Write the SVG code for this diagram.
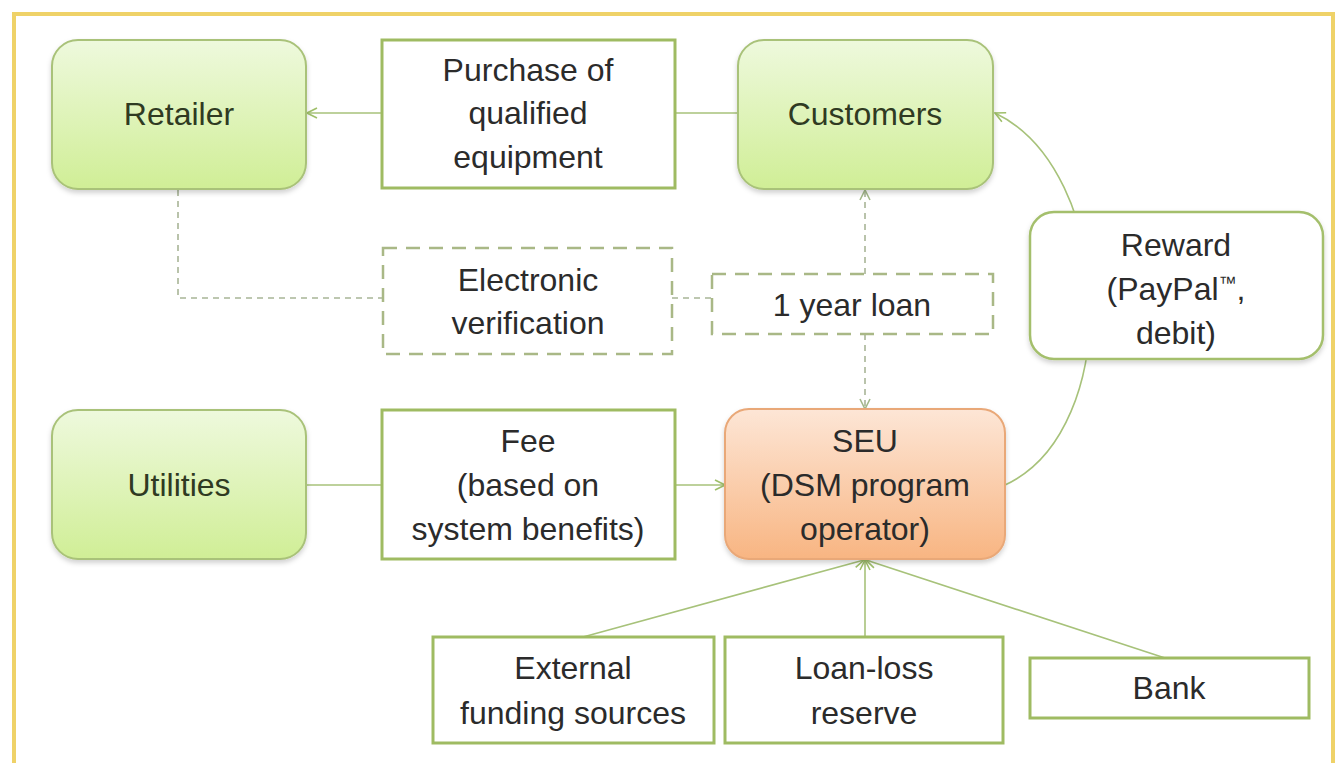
<svg xmlns="http://www.w3.org/2000/svg" width="1336" height="763" viewBox="0 0 1336 763">
<defs>
<linearGradient id="gGreen" x1="0" y1="0" x2="0" y2="1">
<stop offset="0" stop-color="#eef9dd"/>
<stop offset="1" stop-color="#d0ee96"/>
</linearGradient>
<linearGradient id="gOrange" x1="0" y1="0" x2="0" y2="1">
<stop offset="0" stop-color="#fde6d6"/>
<stop offset="1" stop-color="#f8b582"/>
</linearGradient>
<filter id="sh" x="-10%" y="-10%" width="120%" height="125%">
<feDropShadow dx="0" dy="3" stdDeviation="2.5" flood-color="#000" flood-opacity="0.18"/>
</filter>
<marker id="arr" viewBox="0 0 12 12" refX="11" refY="6" markerWidth="12" markerHeight="12" markerUnits="userSpaceOnUse" orient="auto">
<path d="M1,1 L11,6 L1,11" fill="none" stroke="#9fbf6a" stroke-width="1.6"/>
</marker>
<marker id="arrD" viewBox="0 0 12 12" refX="11" refY="6" markerWidth="12" markerHeight="12" markerUnits="userSpaceOnUse" orient="auto">
<path d="M1,1 L11,6 L1,11" fill="none" stroke="#a3b98a" stroke-width="1.6"/>
</marker>
</defs>
<style>
text{font-family:"Liberation Sans",Arial,sans-serif;font-size:32px;fill:#2b2b2b;text-anchor:middle}
.node{fill:url(#gGreen);stroke:#a9c279;stroke-width:2;filter:url(#sh)}
.seu{fill:url(#gOrange);stroke:#e9a878;stroke-width:2;filter:url(#sh)}
.box{fill:#fff;stroke:#9fbb62;stroke-width:3}
.rbox{fill:#fff;stroke:#a4bf6c;stroke-width:2.5;filter:url(#sh)}
.dbox{fill:#fff;stroke:#a9b886;stroke-width:2.5;stroke-dasharray:14 9}
.ln{fill:none;stroke:#a7c27a;stroke-width:1.6}
.dl{fill:none;stroke:#a8b597;stroke-width:1.6;stroke-dasharray:6 5}
.nt{fill:#2f3a22}
.tm{font-size:18px}
</style>
<rect width="1336" height="763" fill="#fff"/>
<path d="M14,763 L14,14 L1333,14 L1333,763" fill="none" stroke="#efd268" stroke-width="4"/>

<g id="connectors">
<line class="ln" x1="382" y1="113" x2="307" y2="113" marker-end="url(#arr)"/>
<line class="ln" x1="675" y1="113" x2="738" y2="113"/>
<path class="dl" d="M178,190 L178,298 L383,298"/>
<line class="dl" x1="672" y1="298" x2="712" y2="298"/>
<line class="dl" x1="865" y1="274" x2="865" y2="190" marker-end="url(#arrD)"/>
<line class="dl" x1="865" y1="334" x2="865" y2="409" marker-end="url(#arrD)"/>
<path class="ln" d="M1005,485 C1125,430 1115,170 995,113" marker-end="url(#arr)"/>
<line class="ln" x1="306" y1="485" x2="382" y2="485"/>
<line class="ln" x1="675" y1="485" x2="725" y2="485" marker-end="url(#arr)"/>
<line class="ln" x1="583" y1="637" x2="864" y2="560" marker-end="url(#arr)"/>
<line class="ln" x1="865" y1="637" x2="865" y2="560" marker-end="url(#arr)"/>
<line class="ln" x1="1165" y1="658" x2="866" y2="560" marker-end="url(#arr)"/>
</g>

<g id="retailer">
<rect class="node" x="52" y="40" width="254" height="149" rx="26"/>
<text class="nt" x="179" y="125">Retailer</text>
</g>
<g id="purchase">
<rect class="box" x="382" y="40" width="293" height="148"/>
<text x="528" y="81">Purchase of</text>
<text x="528" y="124">qualified</text>
<text x="528" y="168">equipment</text>
</g>
<g id="customers">
<rect class="node" x="738" y="40" width="255" height="149" rx="26"/>
<text class="nt" x="865" y="125">Customers</text>
</g>
<g id="verification">
<rect class="dbox" x="383" y="248" width="289" height="106"/>
<text x="528" y="291">Electronic</text>
<text x="528" y="334">verification</text>
</g>
<g id="loan">
<rect class="dbox" x="712" y="274" width="281" height="60"/>
<text x="852" y="316">1 year loan</text>
</g>
<g id="reward">
<rect class="rbox" x="1030" y="212" width="293" height="147" rx="24"/>
<text x="1176" y="256">Reward</text>
<text x="1176" y="300">(PayPal<tspan class="tm" dy="-11">™</tspan><tspan dy="11">,</tspan></text>
<text x="1176" y="344">debit)</text>
</g>
<g id="utilities">
<rect class="node" x="52" y="410" width="254" height="149" rx="26"/>
<text class="nt" x="179" y="496">Utilities</text>
</g>
<g id="fee">
<rect class="box" x="382" y="410" width="293" height="149"/>
<text x="528" y="452">Fee</text>
<text x="528" y="496">(based on</text>
<text x="528" y="540">system benefits)</text>
</g>
<g id="seu">
<rect class="seu" x="725" y="409" width="280" height="150" rx="24"/>
<text x="865" y="452">SEU</text>
<text x="865" y="496">(DSM program</text>
<text x="865" y="540">operator)</text>
</g>
<g id="external">
<rect class="box" x="433" y="637" width="281" height="106"/>
<text x="573" y="679">External</text>
<text x="573" y="724">funding sources</text>
</g>
<g id="loanloss">
<rect class="box" x="725" y="637" width="278" height="106"/>
<text x="864" y="679">Loan-loss</text>
<text x="864" y="724">reserve</text>
</g>
<g id="bank">
<rect class="box" x="1030" y="658" width="279" height="60"/>
<text x="1169" y="699">Bank</text>
</g>
</svg>
